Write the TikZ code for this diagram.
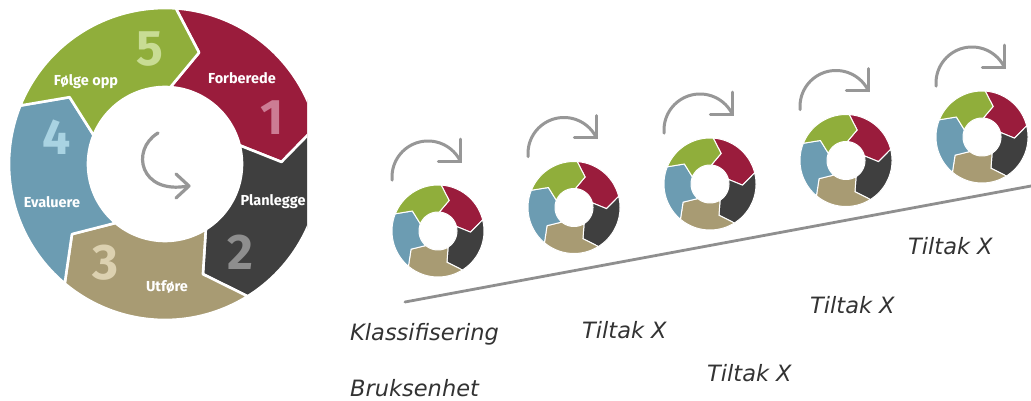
\documentclass[tikz,border=0pt]{standalone}
\usepackage{fontspec}
\setsansfont{Fira Sans}
\newfontfamily\labelfont{DejaVu Sans}
\usetikzlibrary{calc}

\definecolor{segred}{HTML}{9A1C3C}
\definecolor{segdark}{HTML}{3F3F3F}
\definecolor{segtan}{HTML}{A89B73}
\definecolor{segblue}{HTML}{6C9CB2}
\definecolor{seggreen}{HTML}{90AE3B}
\definecolor{numred}{HTML}{CC7C94}
\definecolor{numdark}{HTML}{8E8E8E}
\definecolor{numtan}{HTML}{DCD1B0}
\definecolor{numblue}{HTML}{A9D3E2}
\definecolor{numgreen}{HTML}{C8DC94}
\definecolor{arrowgray}{HTML}{979797}
\definecolor{labelgray}{HTML}{333333}

% ring of five chevron segments: centre x, centre y, outer r, inner r, gap width, tip angle
\newcommand\cyclering[6]{%
  \begin{scope}[shift={(#1,#2)}]
    \foreach \a/\col in {-86/segred,-14/segdark,58/segtan,130/segblue,202/seggreen}{
      \pgfmathsetmacro\b{\a+72}
      \pgfmathsetmacro\m{(#3+#4)/2}
      \pgfmathsetmacro\ta{\a+#6}
      \pgfmathsetmacro\tb{\b+#6}
      \filldraw[fill=\col,draw=white,line width=#5,line join=round]
        (\a:#3) -- (\ta:\m) -- (\a:#4)
        -- plot[domain=\a:\b,samples=40] (\x:#4)
        -- (\tb:\m) -- (\b:#3)
        -- plot[domain=\b:\a,samples=40] (\x:#3) -- cycle;
    }
  \end{scope}}

% curved "repeat" arrow above a small ring
\newcommand\repeatarrow[2]{%
  \begin{scope}[shift={(#1,#2)}]
    \draw[smallarrow] plot[domain=175:334,samples=50] ({-10+36*cos(\x)},{-54+36*sin(\x)});
    \coordinate (tip) at (22.4,-69.8);
    \draw[smallarrow] ($(tip)+(0,-22)$) -- (tip) -- ++(-22,0);
  \end{scope}}

\tikzset{
  steplabel/.style={font=\sffamily\bfseries\fontsize{14.5}{17}\selectfont,text=white,inner sep=0pt},
  stepnum/.style={font=\sffamily\bfseries\fontsize{50}{50}\selectfont,inner sep=0pt},
  cyclearrow/.style={draw=arrowgray,line width=3.2pt,line cap=round,line join=round},
  smallarrow/.style={draw=arrowgray,line width=3pt,line cap=round,line join=miter},
  timeline/.style={draw=arrowgray!95!black,line width=2.8pt,line cap=round},
  phase/.style={font=\labelfont\itshape\fontsize{22.5}{26}\selectfont,text=labelgray,inner sep=0pt,anchor=base west}
}

\begin{document}
\begin{tikzpicture}[x=1pt,y=-1pt]
\useasboundingbox[fill=white] (0,0) rectangle (1031,401);

% large cycle, cut off on its right side
\begin{scope}
  \clip (0,0) rectangle (307,401);
  \cyclering{165}{164}{156}{77}{2.6}{13}
  \node[stepnum,text=numred]   (n1) at (272,118) {1};
  \node[stepnum,text=numdark]  (n2) at (240,252) {2};
  \node[stepnum,text=numtan]   (n3) at (105,263) {3};
  \node[stepnum,text=numblue]  (n4) at (57,137)  {4};
  \node[stepnum,text=numgreen] (n5) at (150,49)  {5};
  \node[steplabel] (forberede) at (242,78)  {Forberede};
  \node[steplabel] (planlegge) at (273,202) {Planlegge};
  \node[steplabel] (utfore)    at (167,287) {Utføre};
  \node[steplabel] (evaluere)  at (52,202)  {Evaluere};
  \node[steplabel] (folgeopp)  at (86,82)   {Følge opp};
  % centre arrow
  \draw[cyclearrow] (158,133) .. controls (130,150) and (140,195) .. (188,186);
  \draw[cyclearrow] (176,174) -- (189,186) -- (176,198);
\end{scope}

% timeline
\coordinate (tstart) at (405,302);
\coordinate (tend) at (1031,186);
\draw[timeline] (tstart) -- (tend);

% small cycles along the timeline
\foreach \i in {0,...,4}{
  \pgfmathsetmacro\cx{438+136*\i}
  \pgfmathsetmacro\cy{231-23.5*\i}
  \cyclering{\cx}{\cy}{46}{19}{1}{16}
  \repeatarrow{\cx}{\cy}
}

% labels
\node[phase] (klass) at (350,340) {Klassifisering};
\node[phase] (bruk)  at (350,396) {Bruksenhet};
\node[phase] (t1)    at (582,338) {Tiltak X};
\node[phase] (t2)    at (707,381) {Tiltak X};
\node[phase] (t3)    at (810,313) {Tiltak X};
\node[phase] (t4)    at (908,254) {Tiltak X};
\end{tikzpicture}
\end{document}
